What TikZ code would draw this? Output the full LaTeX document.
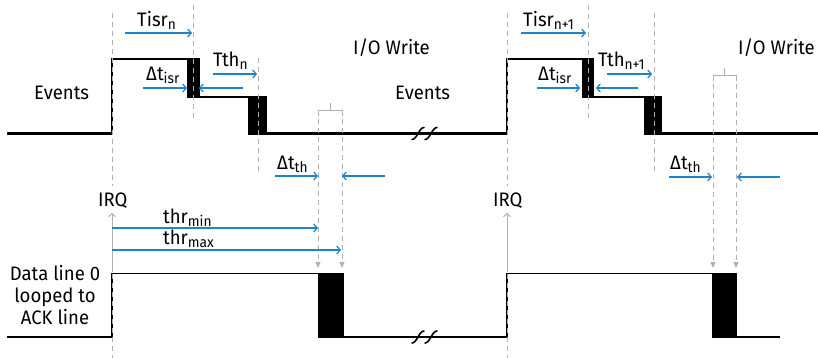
\documentclass[tikz,border=0pt]{standalone}
\usepackage{fontspec}
\setmainfont{Fira Sans}[FakeStretch=0.95]
\usetikzlibrary{arrows.meta}
\definecolor{arrblue}{RGB}{30,130,205}
\definecolor{guide}{RGB}{175,175,175}
\newcommand{\lowsub}[1]{\raisebox{-2.5pt}{\fontsize{14.5}{15}\selectfont #1}}
\begin{document}
\begin{tikzpicture}[x=1pt,y=-1pt,
  lbl/.style={font=\fontsize{19.5}{22}\selectfont, inner sep=0pt, anchor=base west},
  sig/.style={line width=2.6pt, line join=miter},
  dsig/.style={line width=1.6pt, line join=miter},
  guideline/.style={guide, line width=0.8pt, dash pattern=on 5pt off 4pt},
  bracketline/.style={guide, line width=0.8pt},
  bluearr/.style={arrblue, line width=1.2pt, -{Straight Barb[length=3.5pt,width=8pt]}},
  downarr/.style={guideline, -{Triangle[length=6pt,width=5pt]}},
  uparr/.style={guide, line width=1pt, -{Straight Barb[length=3pt,width=7pt]}},
  brk/.style={line width=1.6pt, line cap=round}
]
\useasboundingbox (0,0) rectangle (818,358);

% ---------- top signal ----------
\draw[sig] (7,133.5) -- (112,133.5) -- (112,59) -- (193,59);
\fill (187,57.7) rectangle (200,98.3);
\draw[sig] (199,97) -- (249,97);
\fill (248,95.7) rectangle (267,134.8);
\draw[sig] (266,133.5) -- (507,133.5) -- (507,59) -- (588,59);
\fill (582,57.7) rectangle (594,98.3);
\draw[sig] (593,97) -- (645,97);
\fill (644,95.7) rectangle (662,134.8);
\draw[sig] (661,133.5) -- (818,133.5);
% break marks top
\foreach \bx in {418,431}{
  \draw[brk] (\bx-6,139.5) .. controls (\bx-1,139.5) and (\bx+1,127.5) .. (\bx+6,127.5);
}

% ---------- data line ----------
\draw[dsig] (7,337) -- (112,337) -- (112,273.3) -- (319,273.3);
\fill (318,272.5) rectangle (344,337.8);
\draw[dsig] (343,337) -- (507,337) -- (507,273.3) -- (713,273.3);
\fill (712,272.5) rectangle (737,337.8);
\draw[dsig] (736,337) -- (780,337);
\foreach \bx in {418,431}{
  \draw[brk] (\bx-6,343) .. controls (\bx-1,343) and (\bx+1,331) .. (\bx+6,331);
}

% ---------- guide lines ----------
\draw[guideline] (112,13) -- (112,186);
\draw[guideline] (112,274) -- (112,358);
\draw[guideline] (193,5) -- (193,118);
\draw[guideline] (258,58) -- (258,172);
\draw[guideline] (507,13) -- (507,186);
\draw[guideline] (507,274) -- (507,358);
\draw[guideline] (588,5) -- (588,120);
\draw[guideline] (654,13) -- (654,172);

% I/O write brackets
\coordinate (wa1) at (318,110); \coordinate (wb1) at (342,110);
\coordinate (wa1e) at (318,268); \coordinate (wb1e) at (342,268);
\draw[bracketline] (318,116) -- (wa1) -- (wb1) -- (342,116);
\draw[bracketline] (330,110) -- (330,103);
\draw[downarr] (wa1) -- (wa1e);
\draw[downarr] (wb1) -- (wb1e);

\coordinate (wa2) at (713,75); \coordinate (wb2) at (736,75);
\coordinate (wa2e) at (713,268); \coordinate (wb2e) at (736,268);
\draw[bracketline] (713,81) -- (wa2) -- (wb2) -- (736,81);
\draw[bracketline] (724.5,75) -- (724.5,68);
\draw[downarr] (wa2) -- (wa2e);
\draw[downarr] (wb2) -- (wb2e);

% IRQ arrows
\coordinate (irqA1) at (112,272); \coordinate (irqB1) at (112,213);
\draw[uparr] (irqA1) -- (irqB1);
\coordinate (irqA2) at (507,272); \coordinate (irqB2) at (507,213);
\draw[uparr] (irqA2) -- (irqB2);

% ---------- labels ----------
\node[lbl] (tisr1) at (137,27) {Tisr\lowsub{n}};
\node[lbl] (iow1) at (353,55) {I/O Write};
\node[lbl] (dti1) at (146,81) {Δt\lowsub{isr}};
\node[lbl] (tth1) at (213,67) {Tth\lowsub{n}};
\node[lbl] (ev1) at (34,100) {Events};
\node[lbl] (ev2) at (395,100) {Events};
\node[lbl] (dtt1) at (277,170) {Δt\lowsub{th}};
\node[lbl] (irq1) at (98,206) {IRQ};
\node[lbl] (thrmin) at (163,223.5) {thr\lowsub{min}};
\node[lbl] (thrmax) at (163,244.5) {thr\lowsub{max}};
\node[lbl, anchor=base] (dl1) at (55,280) {Data line 0};
\node[lbl, anchor=base] (dl2) at (55,302) {looped to};
\node[lbl, anchor=base] (dl3) at (55,324) {ACK line};

\node[lbl] (tisr2) at (523,27) {Tisr\lowsub{n+1}};
\node[lbl] (iow2) at (738,55) {I/O Write};
\node[lbl] (dti2) at (538,81) {Δt\lowsub{isr}};
\node[lbl] (tth2) at (598,67) {Tth\lowsub{n+1}};
\node[lbl] (dtt2) at (670,170) {Δt\lowsub{th}};
\node[lbl] (irq2) at (493,206) {IRQ};

% ---------- blue arrows ----------
\coordinate (a1s) at (125,33);  \coordinate (a1e) at (192,33);
\coordinate (a2s) at (143,88);  \coordinate (a2e) at (187,88);
\coordinate (a3s) at (243,88);  \coordinate (a3e) at (199,88);
\coordinate (a4s) at (213,74);  \coordinate (a4e) at (257,74);
\coordinate (a5s) at (275,176); \coordinate (a5e) at (318,176);
\coordinate (a6s) at (385,176); \coordinate (a6e) at (342,176);
\coordinate (a7s) at (112,228); \coordinate (a7e) at (318,228);
\coordinate (a8s) at (112,250); \coordinate (a8e) at (341,250);
\coordinate (b1s) at (521,33);  \coordinate (b1e) at (586,33);
\coordinate (b2s) at (537,88);  \coordinate (b2e) at (580,88);
\coordinate (b3s) at (638,88);  \coordinate (b3e) at (596,88);
\coordinate (b4s) at (607,74);  \coordinate (b4e) at (652,74);
\coordinate (b5s) at (669,177); \coordinate (b5e) at (712,177);
\coordinate (b6s) at (780,177); \coordinate (b6e) at (737,177);
\foreach \p in {a1,a2,a3,a4,a5,a6,a7,a8,b1,b2,b3,b4,b5,b6}{
  \draw[bluearr] (\p s) -- (\p e);
}
\end{tikzpicture}
\end{document}
